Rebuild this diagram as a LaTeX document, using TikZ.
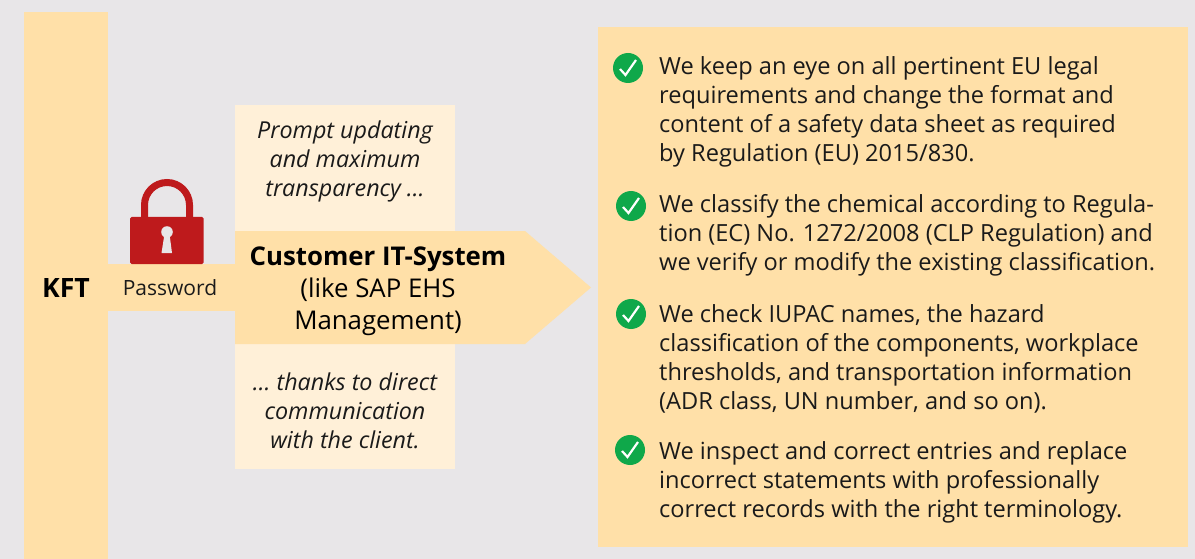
\documentclass[tikz,border=0pt]{standalone}
\usepackage{fontspec}
\setmainfont{Open Sans}
\definecolor{bgGrey}{HTML}{E8E6E8}
\definecolor{sand}{HTML}{FFE0A8}
\definecolor{cream}{HTML}{FFF0D8}
\definecolor{lockRed}{HTML}{BE1A1C}
\definecolor{checkGreen}{HTML}{0FA84A}
\definecolor{inkBlack}{HTML}{1A1A1A}
\begin{document}
\begin{tikzpicture}[x=1pt, y=-1pt,
  block/.style={fill=sand, draw=none},
  pale/.style={fill=cream, draw=none},
  quote/.style={text=inkBlack, align=center, font=\fontsize{23.3}{29}\selectfont\itshape},
  entry/.style={text=inkBlack, align=left, anchor=north west, inner sep=0pt, font=\fontsize{23.6}{29}\selectfont},
  tick/.style={circle, fill=checkGreen, minimum size=30pt, inner sep=0pt}]
\useasboundingbox (0,0) rectangle (1195,559);
\fill[bgGrey] (0,0) rectangle (1195,559);
\fill[block] (24,12) rectangle (108,559);
\fill[block] (108,264) rectangle (240,311);
\fill[pale] (235,105) rectangle (455,231);
\fill[pale] (235,344) rectangle (455,469);
\fill[block] (235,231) -- (525,231) -- (591,287.5) -- (525,344) -- (235,344) -- cycle;
\fill[block] (598,27) rectangle (1188,547);
% lock
\draw[lockRed, line width=7pt] (144.5,218) -- (144.5,205) arc[start angle=180, end angle=360, radius=22.5] -- (189.5,218);
\fill[lockRed, rounded corners=1.5pt] (130,264) -- (130,217) -- (203.5,217) -- (203.5,264) -- cycle;
\fill[bgGrey] (167,232) circle[radius=5.8];
\fill[bgGrey] (164.5,234) -- (169.5,234) -- (172,253) -- (161.5,253) -- cycle;
% labels
\node[text=black, font=\fontsize{26.6}{29}\selectfont\bfseries] (kft) at (66,288) {KFT};
\node[text=inkBlack, font=\fontsize{21}{24}\selectfont] (password) at (170,288) {Password};
\node[quote] (prompt) at (345,161) {Prompt updating\\and maximum\\transparency \dots};
\node[quote] (thanks) at (345,411) {\dots\ thanks to direct\\communication\\with the client.};
\node[text=black, align=center, font=\fontsize{25.8}{32}\selectfont] (customer) at (378,291) {\textbf{Customer IT-System}\\(like SAP EHS\\Management)};
% list
\node[entry] (itemA) at (659,56.5) {We keep an eye on all pertinent EU legal\\requirements and change the format and\\content of a safety data sheet as required\\by Regulation (EU) 2015/830.};
\node[entry] (itemB) at (659,194.5) {We classify the chemical according to Regula-\\tion (EC) No. 1272/2008 (CLP Regulation) and\\we verify or modify the existing classification.};
\node[entry] (itemC) at (659,304.5) {We check IUPAC names, the hazard\\classification of the components, workplace\\thresholds, and transportation information\\(ADR class, UN number, and so on).};
\node[entry] (itemD) at (659,441.5) {We inspect and correct entries and replace\\incorrect statements with professionally\\correct records with the right terminology.};
\foreach \n/\x/\y in {tickA/628/68, tickB/631/206, tickC/631/314, tickD/630/450} {
  \node[tick] (\n) at (\x,\y) {};
  \draw[white, line width=2.2pt] (\x-8,\y+1) -- (\x-2.5,\y+7) -- (\x+8,\y-8);
}
\end{tikzpicture}
\end{document}
